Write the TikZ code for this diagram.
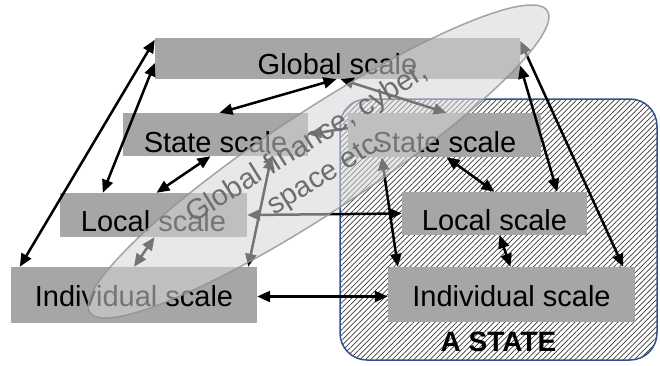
\documentclass[tikz,border=0pt]{standalone}
\usepackage{fontspec}
\setmainfont{Liberation Sans}
\usetikzlibrary{arrows.meta,shapes.geometric,patterns.meta}
\definecolor{boxgray}{HTML}{A6A6A6}
\definecolor{stateblue}{HTML}{2F528F}
\definecolor{hatchcol}{HTML}{3A3A3A}
\definecolor{ovl}{HTML}{D5D5D5}
\definecolor{ovlline}{HTML}{909090}
\definecolor{etxt}{HTML}{6E6E6E}
\begin{document}
\begin{tikzpicture}[x=1pt,y=-1pt,
  sbox/.style={fill=boxgray, inner sep=0pt, font=\fontsize{29}{34}\selectfont},
  dlink/.style={line width=2.5pt, {Triangle[length=13pt,width=11pt]}-{Triangle[length=13pt,width=11pt]}},
  onelink/.style={line width=2.5pt, -{Triangle[length=13pt,width=11pt]}},
  stateregion/.style={draw=stateblue, line width=1.5pt, rounded corners=27pt, inner sep=0pt,
    preaction={fill=white}, pattern={Lines[angle=45,distance=3.8pt,line width=0.7pt]}, pattern color=hatchcol},
  sectorshape/.style={ellipse, fill=ovl, fill opacity=0.55, draw=ovlline, draw opacity=0.8, line width=1.5pt, inner sep=0pt},
  sectortext/.style={text=etxt, align=center, font=\fontsize{29}{36}\selectfont, inner sep=0pt},
  statetext/.style={font=\bfseries\fontsize{28}{34}\selectfont, anchor=base, inner sep=0pt}
]
\useasboundingbox (0,0) rectangle (660,365);

% the state region
\node[stateregion, minimum width=317pt, minimum height=261pt] (state) at (498.5,229.5) {};

% scale boxes
\node[sbox, minimum width=365pt, text height=36pt, text depth=5pt]  (glob) at (337.5,58.5) {Global scale};
\node[sbox, minimum width=185pt, text height=39pt, text depth=4pt]  (lsta) at (215.5,134.5) {State scale};
\node[sbox, minimum width=193pt, text height=39pt, text depth=5pt]  (rsta) at (444.5,135) {State scale};
\node[sbox, minimum width=187pt, text height=38pt, text depth=6pt]  (lloc) at (153.5,215) {Local scale};
\node[sbox, minimum width=185pt, text height=38pt, text depth=5pt]  (rloc) at (494.5,213.5) {Local scale};
\node[sbox, minimum width=246pt, text height=39pt, text depth=17pt] (lind) at (134,295) {Individual scale};
\node[sbox, minimum width=247pt, text height=39pt, text depth=16pt] (rind) at (511.5,294.5) {Individual scale};

% connectors
\draw[dlink] ([yshift=-2pt]glob.north west) -- ([xshift=9pt]lind.north west);
\draw[dlink] ([yshift=-4.5pt]glob.west) -- ([xshift=43pt]lloc.north west);
\draw[dlink] ([xshift=-1pt]glob.south) -- ([xshift=4pt]lsta.north);
\draw[dlink] ([xshift=-5pt]lsta.south) -- ([xshift=3pt]lloc.north);
\draw[dlink] ([yshift=-1.5pt]lind.east) -- ([yshift=-2pt]rind.west);
\draw[dlink] ([xshift=2pt]rsta.south) -- (rloc.north);
\draw[dlink] ([yshift=-7pt]glob.east) -- ([xshift=-30pt]rloc.north east);
\draw[dlink] ([yshift=-3pt]glob.north east) -- ([xshift=-12pt]rind.north east);
\draw[dlink] ([xshift=5pt]rloc.south) -- ([xshift=-1pt]rind.north);
\draw[dlink] ([xshift=1pt]lloc.south) -- (lind.north);
\draw[dlink] ([xshift=3pt]glob.south) -- ([xshift=2pt]rsta.north);
\draw[onelink] ([yshift=7pt]rsta.west) -- (lsta.east);
\draw[dlink] (lloc.east) -- (rloc.west);
\draw[dlink] ([xshift=56pt]lsta.south) -- ([xshift=-9pt]lind.north east);
\draw[dlink] ([xshift=34pt]rsta.south west) -- ([xshift=10pt]rind.north west);

% translucent sector ellipse
\node[sectorshape, rotate=33.4, minimum width=548pt, minimum height=100pt] (sector) at (318.5,161.5) {};
\node[sectortext, rotate=32] (sectorlabel) at (317,159) {Global finance, cyber,\\space etc.};

\node[statetext] (statelabel) at (498.5,351) {A STATE};
\end{tikzpicture}
\end{document}
